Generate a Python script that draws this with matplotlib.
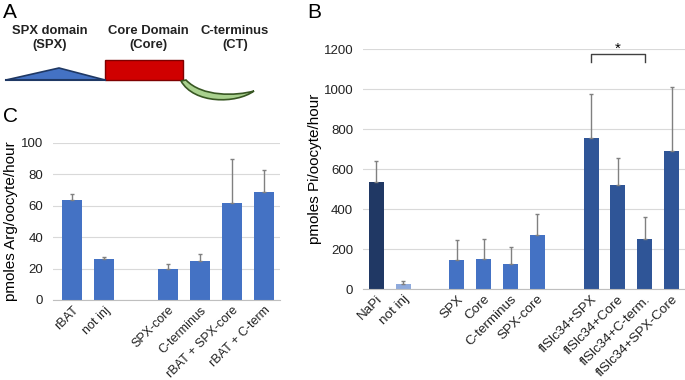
import matplotlib
matplotlib.use("Agg")
import matplotlib.pyplot as plt
import numpy as np
from matplotlib.patches import Polygon, Rectangle, PathPatch
from matplotlib.path import Path

plt.rcParams["font.family"] = ["Liberation Sans", "DejaVu Sans"]

# panel B data
b_labels = ["NaPi", "not inj", "SPX", "Core", "C-terminus", "SPX-core",
            "flSlc34+SPX", "flSlc34+Core", "flSlc34+C-term.", "flSlc34+SPX-Core"]
b_pos = [0, 1, 3, 4, 5, 6, 8, 9, 10, 11]
b_vals = [535, 25, 145, 150, 125, 270, 755, 520, 250, 690]
b_err = [105, 15, 100, 100, 85, 105, 220, 135, 110, 320]
b_colors = ["#203864", "#8faadc", "#4472c4", "#4472c4", "#4472c4", "#4472c4",
            "#2f5597", "#2f5597", "#2f5597", "#2f5597"]

# panel C data
c_labels = ["rBAT", "not inj", "SPX-core", "C-terminus", "rBAT + SPX-core", "rBAT + C-term"]
c_pos = [0, 1, 3, 4, 5, 6]
c_vals = [64, 26, 19.5, 25, 62, 68.5]
c_err = [3.5, 1.5, 3.5, 4.5, 28, 14.5]

W, H = 685, 380
fig = plt.figure(figsize=(W / 100, H / 100), dpi=100)

def px_axes(x0, y0, x1, y1):
    return fig.add_axes([x0 / W, 1 - y1 / H, (x1 - x0) / W, (y1 - y0) / H])

def style(ax, ymax, step, xsize):
    ax.set_ylim(0, ymax)
    ax.set_yticks(np.arange(0, ymax + 1, step))
    ax.yaxis.grid(True, color="#d9d9d9", lw=0.8)
    ax.set_axisbelow(True)
    for s in ["top", "right", "left"]:
        ax.spines[s].set_visible(False)
    ax.spines["bottom"].set_color("#bfbfbf")
    ax.tick_params(axis="y", length=0, labelsize=9.5, colors="#222222", pad=7)
    ax.tick_params(axis="x", length=0, labelsize=xsize, colors="#222222", pad=3)

# panel B
axb = px_axes(363, 49, 685, 289)
axb.bar(b_pos, b_vals, width=0.56, color=b_colors, zorder=2)
axb.errorbar(b_pos, b_vals, yerr=[np.zeros(len(b_err)), b_err], fmt="none",
             ecolor="#808080", elinewidth=1, capsize=1.5, zorder=3)
style(axb, 1200, 200, 9.7)
axb.set_xlim(-0.5, 11.5)
axb.set_xticks(b_pos)
axb.set_xticklabels(b_labels, rotation=45, ha="right", rotation_mode="anchor")
axb.set_ylabel("pmoles Pi/oocyte/hour", fontsize=11, labelpad=1)
axb.plot([8, 8, 10, 10], [1135, 1175, 1175, 1135], color="#404040", lw=1, clip_on=False)
axb.text(9, 1200, "*", ha="center", va="center", fontsize=11, clip_on=False)

# panel C
axc = px_axes(53, 143, 280, 300)
axc.bar(c_pos, c_vals, width=0.63, color="#4472c4", zorder=2)
axc.errorbar(c_pos, c_vals, yerr=[np.zeros(len(c_err)), c_err], fmt="none",
             ecolor="#808080", elinewidth=1, capsize=1.5, zorder=3)
style(axc, 100, 20, 9.0)
axc.set_xlim(-0.6, 6.5)
axc.set_xticks(c_pos)
axc.set_xticklabels(c_labels, rotation=45, ha="right", rotation_mode="anchor")
axc.set_ylabel("pmoles Arg/oocyte/hour", fontsize=11, labelpad=2)

# overlay: panel letters and domain diagram (pixel coords)
ov = fig.add_axes([0, 0, 1, 1])
ov.set_xlim(0, W)
ov.set_ylim(H, 0)
ov.axis("off")
ov.text(3, 12, "A", fontsize=15, va="center")
ov.text(307, 12, "B", fontsize=15, va="center")
ov.text(3, 117, "C", fontsize=15, va="center")
for x, t in [(50, "SPX domain\n(SPX)"), (148, "Core Domain\n(Core)"), (235, "C-terminus\n(CT)")]:
    ov.text(x, 38, t, ha="center", va="center", fontsize=9.4, fontweight="bold",
            color="#222222", linespacing=1.2)
ov.plot([6, 105], [80, 80], color="#1f3864", lw=1.5)
ov.add_patch(Polygon([[6, 80], [59, 68], [105, 80]], closed=True,
                     facecolor="#4472c4", edgecolor="#1f3864", lw=1.2))
ov.add_patch(Rectangle((105, 60), 78, 20, facecolor="#d00000", edgecolor="#7f0000", lw=1))
verts = [(181, 81), (194, 104), (236, 104), (254, 91),
         (236, 96), (202, 97), (186, 80), (181, 81)]
codes = [Path.MOVETO, Path.CURVE4, Path.CURVE4, Path.CURVE4,
         Path.CURVE4, Path.CURVE4, Path.CURVE4, Path.CLOSEPOLY]
ov.add_patch(PathPatch(Path(verts, codes), facecolor="#a9d18e", edgecolor="#385723", lw=1.2))

fig.savefig("out.png", dpi=100)
